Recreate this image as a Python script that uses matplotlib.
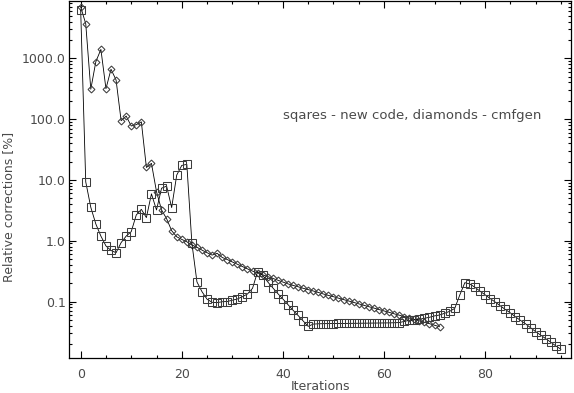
import matplotlib
matplotlib.use("Agg")
import matplotlib.pyplot as plt
from matplotlib.ticker import LogLocator, MultipleLocator, FixedLocator, FixedFormatter, NullFormatter

# ---- data ----
new_code_iter = list(range(0, 96))
new_code_corr = [
    6200, 9.3, 3.54, 1.88, 1.19, 0.82, 0.69, 0.635, 0.93, 1.19,
    1.41, 2.65, 3.28, 2.4, 5.9, 3.2, 7.3, 7.9, 3.5, 12.0,
    17.3, 18.0, 0.91, 0.21, 0.145, 0.109, 0.097, 0.096, 0.099, 0.100,
    0.105, 0.110, 0.120, 0.133, 0.165, 0.31, 0.27, 0.21, 0.168, 0.135,
    0.11, 0.089, 0.072, 0.059, 0.048, 0.039, 0.0425, 0.043, 0.0432, 0.0433,
    0.0434, 0.0435, 0.0436, 0.0437, 0.0438, 0.0439, 0.044, 0.0441, 0.0442, 0.0443,
    0.0444, 0.0445, 0.0447, 0.0450, 0.047, 0.049, 0.050, 0.051, 0.053, 0.055,
    0.058, 0.060, 0.064, 0.069, 0.077, 0.128, 0.204, 0.194, 0.171, 0.148,
    0.129, 0.112, 0.098, 0.085, 0.074, 0.065, 0.056, 0.049, 0.043, 0.037,
    0.032, 0.028, 0.0245, 0.0214, 0.0186, 0.0164,
]

cmfgen_iter = list(range(0, 72))
cmfgen_corr = [
    7000, 3700, 310, 880, 1400, 316, 660, 440, 94, 112,
    77, 81, 90, 16.0, 18.7, 6.4, 3.2, 2.3, 1.46, 1.16,
    1.05, 0.96, 0.85, 0.78, 0.70, 0.635, 0.58, 0.62, 0.53, 0.49,
    0.447, 0.41, 0.376, 0.344, 0.316, 0.295, 0.275, 0.257, 0.24, 0.224,
    0.209, 0.195, 0.184, 0.175, 0.165, 0.157, 0.149, 0.141, 0.133, 0.126,
    0.120, 0.1135, 0.1076, 0.102, 0.0966, 0.0916, 0.0867, 0.0822, 0.078, 0.0738,
    0.070, 0.0664, 0.0628, 0.0596, 0.0565, 0.0535, 0.0507, 0.0481, 0.0455, 0.0432,
    0.0407, 0.0385,
]

x_major = [0, 20, 40, 60, 80]
x_labels = ["0", "20", "40", "60", "80"]
y_major = [0.1, 1.0, 10.0, 100.0, 1000.0]
y_labels = ["0.1", "1.0", "10.0", "100.0", "1000.0"]

legend_text = "sqares - new code, diamonds - cmfgen"
x_title = "Iterations"
y_title = "Relative corrections [%]"

# ---- figure ----
W, H = 574, 393
fig = plt.figure(figsize=(W / 100, H / 100), dpi=100)
ax = fig.add_axes([68.7 / W, 1 - 358.3 / H, (571.0 - 68.7) / W, (358.3 - 1.0) / H])

txtc = "#4a4a4a"
mc = "#3c3c3c"

ax.plot(cmfgen_iter, cmfgen_corr, color="black", lw=0.6,
        marker="D", ms=3.5, mfc="none", mec=mc, mew=0.75)
ax.plot(new_code_iter, new_code_corr, color="black", lw=0.6,
        marker="s", ms=5.2, mfc="none", mec=mc, mew=0.75)

ax.set_yscale("log")
ax.set_xlim(-2.37, 97.0)
ax.set_ylim(0.01164, 8750)

ax.xaxis.set_major_locator(FixedLocator(x_major))
ax.xaxis.set_major_formatter(FixedFormatter(x_labels))
ax.xaxis.set_minor_locator(MultipleLocator(5))
ax.yaxis.set_major_locator(FixedLocator(y_major))
ax.yaxis.set_major_formatter(FixedFormatter(y_labels))
ax.yaxis.set_minor_locator(LogLocator(base=10, subs=range(2, 10), numticks=20))
ax.yaxis.set_minor_formatter(NullFormatter())

ax.tick_params(which="both", direction="in", top=True, right=True,
               color="black", width=0.8, labelsize=9, labelcolor=txtc)
ax.tick_params(which="major", length=5)
ax.tick_params(which="minor", length=2.5)
ax.tick_params(axis="x", pad=7)
ax.tick_params(axis="y", pad=2)
for s in ax.spines.values():
    s.set_linewidth(0.9)
    s.set_color("black")

fig.text(283 / W, 1 - 115 / H, legend_text, fontsize=9.5, color=txtc,
         ha="left", va="center")
fig.text(320.5 / W, 1 - 386 / H, x_title, fontsize=9, color=txtc,
         ha="center", va="center")
fig.text(8.5 / W, 1 - 206.7 / H, y_title, fontsize=9, color=txtc,
         ha="center", va="center", rotation=90)

fig.savefig("out.png", dpi=100)
